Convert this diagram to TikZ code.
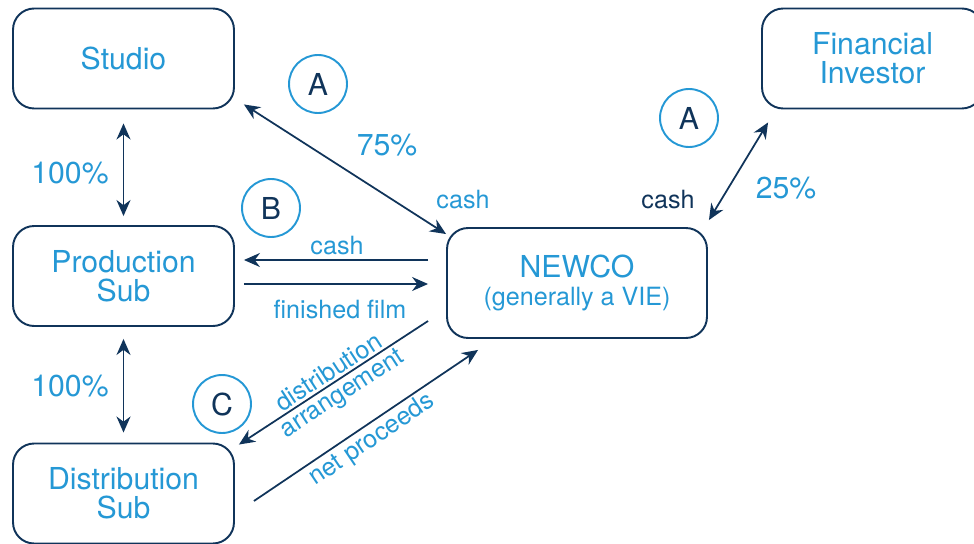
\documentclass[tikz,border=0pt]{standalone}
\usepackage{fontspec}
\setmainfont{TeX Gyre Heros}
\usetikzlibrary{positioning,arrows.meta}
\definecolor{navy}{RGB}{16,52,90}
\definecolor{sky}{RGB}{37,152,213}

\begin{document}
\begin{tikzpicture}[
        x=0.02cm, y=-0.02cm,
        every node/.style={font=\fontsize{17.2}{16.6}\selectfont, text=sky},
        entity/.style={draw=navy, rounded corners=12pt, line width=1.1pt, minimum width=4.42cm, minimum height=2cm, align=center},
        tag/.style={circle, draw=sky, line width=1.1pt, minimum size=1.16cm, inner sep=0pt, text=navy},
        lbl/.style={font=\fontsize{14.3}{13.6}\selectfont},
        arrow/.style={-{Stealth[length=3.2mm, width=2.8mm]}, line width=1pt, navy},
        both/.style={{Stealth[length=3.2mm, width=2.8mm]}-{Stealth[length=3.2mm, width=2.8mm]}, line width=1pt, navy}
    ]
        \useasboundingbox (0,0) rectangle (974,544);

        % Entities
        \node[entity] (studio) at (123.5,58.5) {Studio};
        \node[entity] (prod) at (123.5,276) {Production\\Sub};
        \node[entity] (dist) at (123.5,493.5) {Distribution\\Sub};
        \node[entity, minimum width=5.2cm, minimum height=2.2cm] (newco) at (577,283)
            {NEWCO\\[-1pt]{\fontsize{14.3}{13.6}\selectfont (generally a VIE)}};
        \node[entity] (investor) at (872.5,58.5) {Financial\\Investor};

        % Step tags
        \node[tag] (tagA) at (318,84) {A};
        \node[tag] (tagB) at (271,208) {B};
        \node[tag] (tagC) at (222,404) {C};
        \node[tag] (tagA2) at (689,118) {A};

        % Ownership shares
        \node (own1) at (70,173) {100\%};
        \node (own2) at (70,386) {100\%};
        \node (own3) at (387,145) {75\%};
        \node (own4) at (786,188) {25\%};

        % Flow labels
        \node[lbl] (cashS) at (463,200) {cash};
        \node[lbl, text=navy] (cashI) at (668,200) {cash};
        \node[lbl] (cashP) at (337,246) {cash};
        \node[lbl] (film) at (340,309) {finished film};
        \node[lbl, rotate=33, align=center] (deal) at (336,384) {distribution\\arrangement};
        \node[lbl, rotate=34] (proceeds) at (372,440) {net proceeds};

        % Ownership links
        \draw[both] ([shift={(0,14)}]studio.south) -- ([shift={(0,-9)}]prod.north);
        \draw[both] ([shift={(0,12)}]prod.south) -- ([shift={(0,-10)}]dist.north);
        \draw[both] ([shift={(9,-5)}]studio.south east) -- ([shift={(0,7)}]newco.north west);
        \draw[both] ([shift={(7,13)}]investor.south west) -- ([shift={(1,-7)}]newco.north east);

        % Flows
        \draw[arrow] ([shift={(-18,-23)}]newco.west) -- ([shift={(9,-16)}]prod.east);
        \draw[arrow] ([shift={(9,8)}]prod.east) -- ([shift={(-18,1)}]newco.west);
        \draw[arrow] ([shift={(-18,38)}]newco.west) -- ([shift={(4,2)}]dist.north east);
        \draw[arrow] ([shift={(19,7.5)}]dist.east) -- ([shift={(32,11)}]newco.south west);
    \end{tikzpicture}
\end{document}
